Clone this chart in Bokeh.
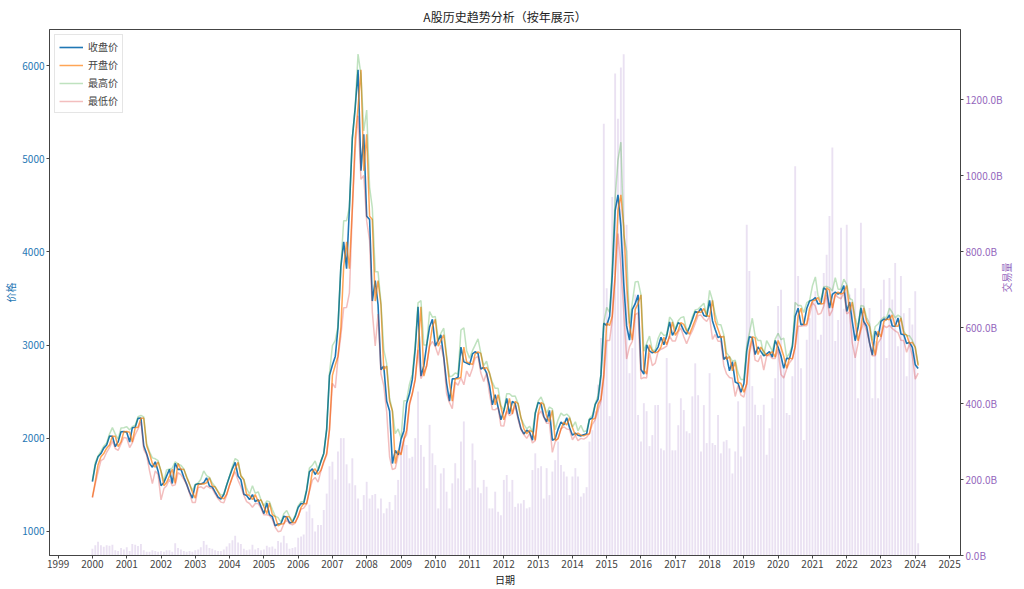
import math
import pandas as pd
from bokeh.plotting import figure
from bokeh.models import (Range1d, LinearAxis, FixedTicker, DatetimeTickFormatter,
                          SingleIntervalTicker, PrintfTickFormatter, ColumnDataSource)
from bokeh.embed import file_html
from bokeh.resources import INLINE

# ---- data (monthly, 2000-01 .. 2024-02) ----
close_price = [
    1535, 1714, 1801, 1836, 1894, 1928, 2023, 2022, 1910, 1961, 2070, 2073,
    2065, 1960, 2112, 2119, 2214, 2218, 1920, 1834, 1730, 1690, 1747, 1646,
    1491, 1525, 1594, 1668, 1515, 1732, 1665, 1669, 1581, 1508, 1421, 1357,
    1500, 1511, 1510, 1522, 1576, 1487, 1477, 1421, 1367, 1349, 1397, 1497,
    1590, 1675, 1742, 1595, 1555, 1399, 1386, 1342, 1396, 1320, 1341, 1266,
    1191, 1306, 1181, 1159, 1060, 1080, 1083, 1162, 1155, 1092, 1099, 1161,
    1258, 1299, 1298, 1440, 1641, 1672, 1612, 1658, 1752, 1837, 2099, 2675,
    2786, 2881, 3183, 3841, 4109, 3820, 4471, 5218, 5552, 5955, 4871, 5262,
    4383, 4348, 3473, 3693, 3433, 2736, 2775, 2397, 2293, 1729, 1871, 1821,
    1991, 2082, 2373, 2477, 2632, 2959, 3412, 2667, 2779, 2996, 3195, 3277,
    2989, 3051, 3110, 2871, 2592, 2398, 2638, 2639, 2656, 2979, 2820, 2808,
    2790, 2905, 2928, 2911, 2743, 2762, 2701, 2567, 2359, 2468, 2333, 2199,
    2292, 2428, 2262, 2396, 2372, 2225, 2103, 2047, 2086, 2068, 1980, 2269,
    2385, 2365, 2236, 2177, 2300, 1979, 1994, 2098, 2175, 2142, 2220, 2116,
    2033, 2056, 2033, 2026, 2039, 2048, 2202, 2217, 2364, 2420, 2683, 3235,
    3210, 3310, 3748, 4442, 4612, 4277, 3664, 3206, 3053, 3383, 3445, 3539,
    2738, 2688, 3004, 2938, 2917, 2930, 2979, 3085, 3005, 3100, 3250, 3104,
    3159, 3242, 3223, 3155, 3117, 3192, 3273, 3361, 3349, 3393, 3317, 3307,
    3481, 3259, 3169, 3082, 3095, 2847, 2876, 2725, 2821, 2603, 2588, 2494,
    2585, 2941, 3091, 3078, 2899, 2979, 2933, 2886, 2905, 2929, 2872, 3050,
    2977, 2880, 2750, 2860, 2852, 2985, 3310, 3396, 3218, 3225, 3392, 3473,
    3483, 3509, 3442, 3447, 3615, 3591, 3397, 3544, 3568, 3547, 3564, 3640,
    3361, 3462, 3252, 3047, 3186, 3399, 3253, 3202, 3024, 2893, 3151, 3089,
    3255, 3280, 3273, 3323, 3205, 3202, 3291, 3120, 3110, 3018, 3030, 2975,
    2789, 2750,
]
open_price = [
    1368, 1535, 1714, 1801, 1836, 1894, 1928, 2023, 2022, 1910, 1961, 2070,
    2073, 2065, 1960, 2112, 2119, 2214, 2218, 1920, 1834, 1730, 1690, 1747,
    1646, 1491, 1525, 1594, 1668, 1515, 1732, 1665, 1669, 1581, 1508, 1421,
    1357, 1500, 1511, 1510, 1522, 1576, 1487, 1477, 1421, 1367, 1349, 1397,
    1497, 1590, 1675, 1742, 1595, 1555, 1399, 1386, 1342, 1396, 1320, 1341,
    1266, 1191, 1306, 1181, 1159, 1060, 1080, 1083, 1162, 1155, 1092, 1099,
    1161, 1258, 1299, 1298, 1440, 1641, 1672, 1612, 1658, 1752, 1837, 2099,
    2675, 2786, 2881, 3183, 3841, 4109, 3820, 4471, 5218, 5552, 5955, 4871,
    5262, 4383, 4348, 3473, 3693, 3433, 2736, 2775, 2397, 2293, 1729, 1871,
    1821, 1991, 2082, 2373, 2477, 2632, 2959, 3412, 2667, 2779, 2996, 3195,
    3277, 2989, 3051, 3110, 2871, 2592, 2398, 2638, 2639, 2656, 2979, 2820,
    2808, 2790, 2905, 2928, 2911, 2743, 2762, 2701, 2567, 2359, 2468, 2333,
    2199, 2292, 2428, 2262, 2396, 2372, 2225, 2103, 2047, 2086, 2068, 1980,
    2269, 2385, 2365, 2236, 2177, 2300, 1979, 1994, 2098, 2175, 2142, 2220,
    2116, 2033, 2056, 2033, 2026, 2039, 2048, 2202, 2217, 2364, 2420, 2683,
    3235, 3210, 3310, 3748, 4442, 4612, 4277, 3664, 3206, 3053, 3383, 3445,
    3539, 2738, 2688, 3004, 2938, 2917, 2930, 2979, 3085, 3005, 3100, 3250,
    3104, 3159, 3242, 3223, 3155, 3117, 3192, 3273, 3361, 3349, 3393, 3317,
    3307, 3481, 3259, 3169, 3082, 3095, 2847, 2876, 2725, 2821, 2603, 2588,
    2494, 2585, 2941, 3091, 3078, 2899, 2979, 2933, 2886, 2905, 2929, 2872,
    3050, 2977, 2880, 2750, 2860, 2852, 2985, 3310, 3396, 3218, 3225, 3392,
    3474, 3483, 3509, 3442, 3447, 3615, 3591, 3397, 3544, 3568, 3547, 3564,
    3640, 3361, 3462, 3252, 3047, 3186, 3399, 3253, 3202, 3024, 2893, 3151,
    3089, 3255, 3280, 3273, 3323, 3205, 3202, 3291, 3120, 3110, 3018, 3030,
    2975, 2780,
]
high_price = [
    1545, 1740, 1810, 1860, 1915, 1950, 2045, 2114, 2045, 1990, 2110, 2113,
    2125, 2090, 2125, 2140, 2232, 2245, 2230, 1945, 1855, 1790, 1780, 1760,
    1650, 1540, 1660, 1670, 1680, 1748, 1725, 1710, 1670, 1590, 1510, 1440,
    1505, 1520, 1560, 1650, 1600, 1580, 1520, 1480, 1430, 1390, 1400, 1500,
    1595, 1700, 1783, 1760, 1600, 1560, 1460, 1400, 1490, 1410, 1425, 1340,
    1275, 1328, 1320, 1235, 1165, 1148, 1100, 1190, 1225, 1160, 1110, 1175,
    1275, 1320, 1320, 1450, 1680, 1710, 1757, 1660, 1760, 1840, 2100, 2700,
    2995, 3050, 3200, 3850, 4335, 4335, 4480, 5220, 5560, 6124, 5900, 5300,
    5522, 4696, 4472, 3786, 3786, 3458, 2952, 2800, 2430, 2300, 2050, 2100,
    2000, 2402, 2403, 2580, 2688, 3000, 3454, 3478, 3000, 3000, 3361, 3300,
    3306, 3060, 3125, 3181, 2890, 2660, 2670, 2700, 2690, 3160, 3186, 2940,
    2860, 2940, 3000, 3067, 2914, 2780, 2827, 2700, 2600, 2536, 2536, 2350,
    2300, 2478, 2478, 2450, 2453, 2370, 2220, 2150, 2100, 2130, 2070, 2276,
    2400, 2444, 2370, 2270, 2334, 2315, 2092, 2198, 2270, 2243, 2260, 2230,
    2120, 2177, 2080, 2140, 2070, 2080, 2210, 2248, 2370, 2460, 2690, 3239,
    3406, 3350, 3841, 4573, 4986, 5178, 4184, 4006, 3233, 3458, 3678, 3684,
    3539, 2934, 3018, 3097, 2945, 2945, 3070, 3140, 3102, 3111, 3301, 3265,
    3174, 3261, 3295, 3305, 3155, 3193, 3302, 3378, 3386, 3418, 3450, 3314,
    3587, 3481, 3336, 3220, 3219, 3114, 2915, 2876, 2827, 2838, 2700, 2630,
    2630, 2997, 3129, 3288, 3100, 3050, 3049, 2891, 3048, 2994, 2936, 3065,
    3127, 3058, 3074, 2870, 2910, 3000, 3458, 3425, 3426, 3350, 3456, 3474,
    3637, 3732, 3531, 3482, 3625, 3630, 3617, 3581, 3723, 3600, 3600, 3708,
    3651, 3500, 3485, 3294, 3195, 3424, 3418, 3296, 3230, 3050, 3200, 3226,
    3270, 3300, 3295, 3396, 3350, 3292, 3322, 3300, 3150, 3100, 3100, 3050,
    2977, 2790,
]
low_price = [
    1361, 1510, 1640, 1760, 1780, 1850, 1900, 1970, 1890, 1870, 1940, 2010,
    2000, 1900, 1950, 2040, 2100, 2175, 1880, 1820, 1650, 1514, 1650, 1610,
    1339, 1460, 1490, 1560, 1490, 1500, 1630, 1610, 1560, 1500, 1410, 1311,
    1311, 1470, 1480, 1460, 1490, 1470, 1460, 1400, 1350, 1315, 1307, 1390,
    1495, 1580, 1640, 1550, 1480, 1390, 1320, 1300, 1260, 1300, 1300, 1250,
    1178, 1180, 1170, 1130, 1045, 998, 1005, 1080, 1125, 1085, 1070, 1090,
    1160, 1240, 1250, 1295, 1430, 1550, 1580, 1530, 1650, 1740, 1820, 2090,
    2590, 2540, 2860, 3100, 3400, 3404, 3560, 4430, 5100, 5462, 4778, 4820,
    4330, 4123, 3357, 2990, 3333, 2693, 2566, 2284, 1802, 1664, 1678, 1814,
    1844, 1990, 2037, 2352, 2481, 2630, 2948, 2639, 2712, 2780, 2990, 3039,
    2986, 2890, 3000, 2856, 2481, 2382, 2319, 2600, 2570, 2650, 2574, 2722,
    2661, 2750, 2860, 2880, 2700, 2610, 2700, 2480, 2308, 2307, 2330, 2134,
    2132, 2290, 2242, 2263, 2350, 2200, 2094, 2040, 1999, 2050, 1949, 1975,
    2250, 2292, 2230, 2160, 2165, 1849, 1960, 2000, 2100, 2124, 2100, 2095,
    1984, 2030, 1974, 1999, 1991, 2010, 2050, 2150, 2200, 2300, 2400, 2650,
    3049, 3050, 3275, 3742, 4198, 3847, 3373, 2850, 2983, 3040, 3327, 3345,
    2638, 2652, 2648, 2918, 2780, 2807, 2929, 2955, 2969, 2989, 3095, 3044,
    3045, 3139, 3185, 3090, 3016, 3092, 3151, 3232, 3319, 3322, 3280, 3255,
    3305, 3062, 3114, 3041, 3041, 2782, 2691, 2653, 2644, 2449, 2568, 2462,
    2441, 2586, 2900, 3040, 2838, 2822, 2890, 2733, 2882, 2890, 2857, 2857,
    2955, 2685, 2647, 2743, 2810, 2850, 2985, 3203, 3202, 3210, 3209, 3325,
    3457, 3418, 3328, 3341, 3417, 3537, 3313, 3375, 3542, 3512, 3497, 3563,
    3335, 3356, 3023, 2864, 3016, 3157, 3249, 3155, 3021, 2885, 2885, 3023,
    3073, 3209, 3187, 3212, 3178, 3153, 3134, 3053, 3048, 2923, 3014, 2882,
    2635, 2700,
]
volume_b = [
    18, 27, 36, 27, 23, 27, 26, 28, 14, 12, 20, 16,
    22, 12, 30, 28, 25, 30, 14, 10, 10, 14, 12, 10,
    12, 10, 14, 14, 10, 32, 20, 16, 12, 10, 12, 10,
    14, 16, 22, 38, 28, 20, 18, 14, 12, 12, 16, 24,
    32, 40, 52, 34, 30, 18, 14, 16, 28, 16, 20, 14,
    16, 26, 22, 24, 18, 38, 34, 52, 32, 18, 20, 22,
    47, 50, 55, 116, 134, 98, 63, 80, 80, 120, 163, 235,
    247, 200, 274, 309, 309, 240, 190, 256, 185, 150, 120, 159,
    194, 150, 159, 162, 124, 150, 111, 124, 141, 120, 159, 199,
    300, 335, 291, 256, 260, 309, 432, 291, 260, 177, 344, 269,
    238, 124, 216, 230, 168, 124, 190, 243, 203, 300, 353, 172,
    177, 295, 251, 179, 164, 199, 181, 124, 124, 168, 115, 106,
    199, 212, 168, 199, 128, 137, 137, 146, 124, 127, 225, 269,
    230, 235, 150, 230, 159, 221, 251, 300, 238, 221, 208, 159,
    208, 230, 208, 155, 164, 180, 300, 330, 380, 450, 573, 1137,
    704, 367, 944, 1269, 1150, 1285, 1320, 871, 480, 546, 687, 370,
    300, 401, 380, 288, 317, 396, 396, 282, 277, 520, 401, 277,
    277, 343, 414, 383, 327, 322, 419, 506, 422, 274, 396, 296,
    480, 296, 291, 370, 269, 300, 304, 282, 216, 274, 406, 261,
    340, 871, 749, 446, 397, 370, 370, 397, 265, 335, 414, 467,
    657, 700, 493, 375, 370, 472, 1025, 736, 493, 304, 568, 625,
    674, 696, 568, 581, 744, 792, 894, 1074, 565, 620, 863, 650,
    871, 687, 660, 704, 414, 876, 704, 625, 652, 414, 565, 414,
    674, 726, 520, 731, 674, 770, 551, 736, 638, 472, 652, 608,
    696, 32,
]
tick_years = list(range(1999, 2026))

months = pd.date_range("2000-01-01", periods=len(close_price), freq="MS")
year_ticks_ms = [pd.Timestamp(f"{y}-01-01").value / 1e6 for y in tick_years]

src = ColumnDataSource(dict(date=months, close=close_price, open=open_price,
                            high=high_price, low=low_price, vol=volume_b))

FONT = "Noto Sans CJK SC"
BLUE = "#1f77b4"
PURPLE = "#9467bd"

p = figure(width=1024, height=589, x_axis_type="datetime",
           output_backend="svg", toolbar_location=None,
           x_range=Range1d(pd.Timestamp("1998-10-01"), pd.Timestamp("2025-04-27")),
           y_range=Range1d(742, 6387),
           title="A股历史趋势分析（按年展示）",
           min_border_left=46, min_border_right=62, min_border_top=20, min_border_bottom=32)
p.extra_y_ranges = {"vol": Range1d(0, 1385)}

p.title.align = "center"
p.title.text_font = FONT
p.title.text_font_size = "12px"
p.title.text_font_style = "normal"
p.title.text_color = "#222222"

p.xgrid.visible = False
p.ygrid.visible = False
p.outline_line_color = "#444444"
p.outline_line_width = 1

# volume bars (right axis)
p.vbar(x="date", top="vol", bottom=0, width=20 * 86400000, source=src,
       y_range_name="vol", fill_color=PURPLE, fill_alpha=0.2, line_color=None)

p.line("date", "close", source=src, line_color=BLUE, line_width=1.6, legend_label="收盘价")
p.line("date", "open", source=src, line_color="#ff7f0e", line_alpha=0.7, line_width=1.5, legend_label="开盘价")
p.line("date", "high", source=src, line_color="#2ca02c", line_alpha=0.3, line_width=1.5, legend_label="最高价")
p.line("date", "low", source=src, line_color="#d62728", line_alpha=0.3, line_width=1.5, legend_label="最低价")

# x axis
p.xaxis.ticker = FixedTicker(ticks=year_ticks_ms)
p.xaxis.formatter = DatetimeTickFormatter(years="%Y", months="%Y", days="%Y",
                                          hours="%Y", minutes="%Y", seconds="%Y",
                                          milliseconds="%Y", microseconds="%Y")
p.xaxis.axis_label = "日期"
p.xaxis.axis_label_text_color = "#222222"

# left axis
p.yaxis.ticker = SingleIntervalTicker(interval=1000)
p.yaxis.axis_label = "价格"
p.yaxis.major_label_text_color = BLUE
p.yaxis.axis_label_text_color = BLUE

# right axis
ry = LinearAxis(y_range_name="vol", axis_label="交易量",
                ticker=SingleIntervalTicker(interval=200),
                formatter=PrintfTickFormatter(format="%.1fB"))
p.add_layout(ry, "right")
ry.major_label_text_color = PURPLE
ry.axis_label_text_color = PURPLE
ry.axis_label_orientation = math.pi / 2

for ax in [p.xaxis[0], p.yaxis[0], ry]:
    ax.major_label_text_font = FONT
    ax.major_label_text_font_size = "10px"
    ax.axis_label_text_font = FONT
    ax.axis_label_text_font_size = "10px"
    ax.axis_label_text_font_style = "normal"
    ax.axis_label_standoff = 1
    ax.major_label_standoff = 1
    ax.minor_tick_line_color = None
    ax.major_tick_in = 0
    ax.major_tick_out = 3
    ax.axis_line_color = "#444444"
    ax.major_tick_line_color = "#444444"

p.legend.location = "top_left"
p.legend.label_text_font = FONT
p.legend.label_text_font_size = "10px"
p.legend.glyph_width = 24
p.legend.glyph_height = 10
p.legend.label_height = 10
p.legend.spacing = 3
p.legend.padding = 4
p.legend.margin = 5
p.legend.border_line_color = "#cccccc"
p.legend.background_fill_alpha = 0.8

open("out.html", "w").write(file_html(p, INLINE))
